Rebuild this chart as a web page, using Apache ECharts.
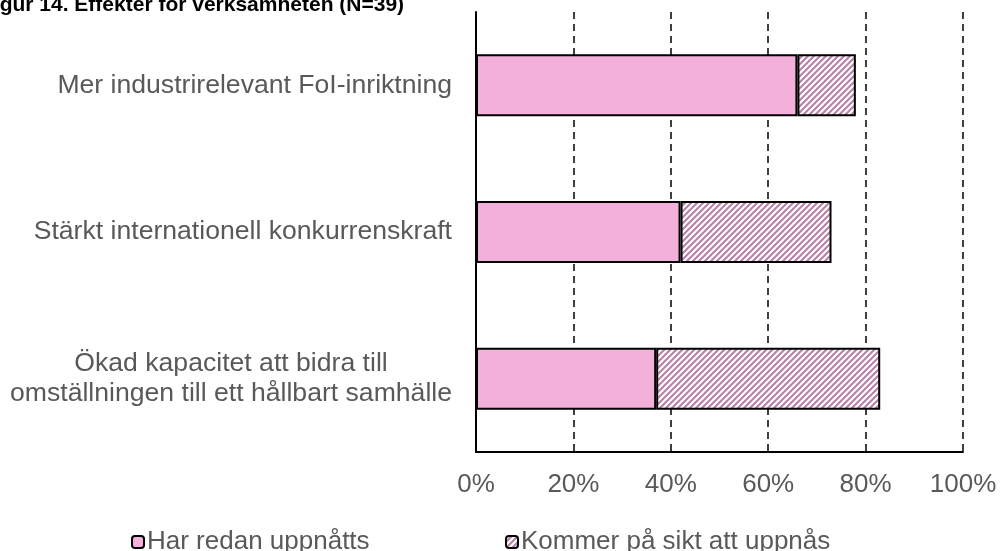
<!DOCTYPE html>
<html>
<head>
    <meta charset="utf-8">
    <title>Effekter för verksamheten</title>
    <script src="https://cdn.jsdelivr.net/npm/echarts@6/dist/echarts.min.js"></script>
    <style>
        html, body { margin: 0; padding: 0; background: #fff; }
    </style>
</head>
<body>
    <div id="main" style="width:1000px;height:551px;"></div>
    <script type="text/javascript">
        // data
        var categories = [
            'Mer industrirelevant FoI-inriktning',
            'Stärkt internationell konkurrenskraft',
            'Ökad kapacitet att bidra till\nomställningen till ett hållbart samhälle'
        ];
        var redanUppnatts = [66, 42, 37];
        var kommerUppnas = [12, 31, 46];
        var seriesNames = ['Har redan uppnåtts', 'Kommer på sikt att uppnås'];
        var titleText = 'Figur 14. Effekter för verksamheten (N=39)';

        var font = 'Arial, "Liberation Sans", sans-serif';
        var grey = '#595959';

        // randig fyllning (diagonala streck)
        var tile = document.createElement('canvas');
        tile.width = 6;
        tile.height = 6;
        var ctx = tile.getContext('2d');
        ctx.fillStyle = '#ffffff';
        ctx.fillRect(0, 0, 6, 6);
        ctx.strokeStyle = '#b982aa';
        ctx.lineWidth = 2.2;
        ctx.beginPath();
        ctx.moveTo(0, 6); ctx.lineTo(6, 0);
        ctx.moveTo(-3, 3); ctx.lineTo(3, -3);
        ctx.moveTo(3, 9); ctx.lineTo(9, 3);
        ctx.stroke();
        var hatch = { image: tile, repeat: 'repeat' };

        var legendText = { fontFamily: font, fontSize: 26, color: grey, padding: [0, 0, 0, -2] };

        var myChart = echarts.init(document.getElementById('main'));
        myChart.setOption({
            animation: false,
            title: {
                text: titleText,
                left: -19,
                top: -5,
                padding: 0,
                textStyle: { fontFamily: font, fontSize: 21, fontWeight: 'bold', color: '#000' }
            },
            legend: [{
                data: [seriesNames[0]],
                left: 126,
                top: 524,
                itemWidth: 12,
                itemHeight: 12,
                textStyle: legendText
            }, {
                data: [seriesNames[1]],
                left: 500,
                top: 524,
                itemWidth: 12,
                itemHeight: 12,
                textStyle: legendText
            }],
            grid: { left: 476, right: 37, top: 12, bottom: 99, containLabel: false },
            xAxis: {
                type: 'value',
                min: 0,
                max: 100,
                interval: 20,
                axisLine: { show: true, lineStyle: { color: '#000', width: 2 } },
                axisTick: { show: false },
                axisLabel: {
                    formatter: '{value}%',
                    margin: 20,
                    fontFamily: font,
                    fontSize: 26,
                    color: grey
                },
                splitLine: { show: true, lineStyle: { color: '#000', width: 1.5, type: [7, 5] } }
            },
            yAxis: {
                type: 'category',
                inverse: true,
                data: categories,
                axisLine: { show: true, lineStyle: { color: '#000', width: 2 } },
                axisTick: { show: false },
                axisLabel: {
                    margin: 24,
                    fontFamily: font,
                    fontSize: 26.6,
                    color: grey,
                    lineHeight: 30,
                    formatter: function (v) {
                        if (v.indexOf('\n') >= 0) {
                            return v.split('\n').map(function (s) { return '{c|' + s + '}'; }).join('\n');
                        }
                        return v;
                    },
                    rich: {
                        c: { align: 'center', fontFamily: font, fontSize: 26.6, color: grey, lineHeight: 30 }
                    }
                }
            },
            series: [{
                name: seriesNames[0],
                type: 'bar',
                stack: 'total',
                barWidth: 62,
                data: redanUppnatts,
                itemStyle: { color: '#f2b0db', borderColor: '#000', borderWidth: 2 }
            }, {
                name: seriesNames[1],
                type: 'bar',
                stack: 'total',
                barWidth: 62,
                data: kommerUppnas,
                itemStyle: { color: hatch, borderColor: '#000', borderWidth: 2 }
            }]
        });
    </script>
</body>
</html>
